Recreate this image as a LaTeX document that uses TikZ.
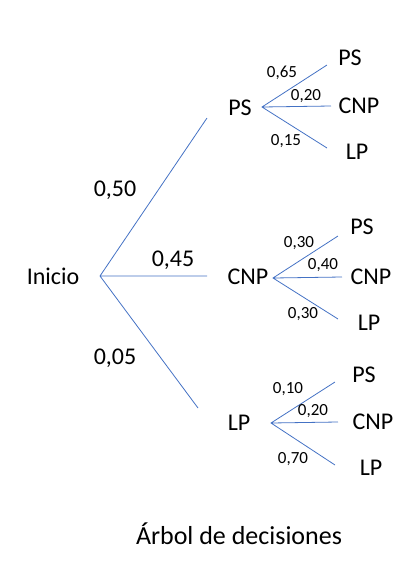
\documentclass[tikz,border=0pt]{standalone}
\usepackage{fontspec}
\setmainfont{Carlito}
\definecolor{azul}{HTML}{4472C4}
\begin{document}
\begin{tikzpicture}[x=1pt,y=-1pt,
    big/.style={font=\fontsize{24}{28}\selectfont},
    small/.style={font=\fontsize{17}{20}\selectfont},
    rama/.style={draw=azul,line width=0.8pt}]
    \useasboundingbox (0,0) rectangle (419,574);
    % raiz
    \node[big] (ini) at (53,276) {Inicio};
    \coordinate (O) at (100,276);
    \coordinate (O1) at (207,118);
    \coordinate (O2) at (207,276);
    \coordinate (O3) at (198,408);
    \draw[rama] (O1) -- (O) -- (O3) (O) -- (O2);
    \node[big] (p1) at (115,190) {0,50};
    \node[big] (p2) at (173,260) {0,45};
    \node[big] (p3) at (115,358) {0,05};
    % primer nivel
    \node[big] (PS) at (240,108) {PS};
    \node[big] (CNP) at (248,277) {CNP};
    \node[big] (LP) at (239,423) {LP};
    % rama PS
    \coordinate (A) at (262,107);
    \coordinate (A1) at (327,65);
    \coordinate (A2) at (331,106);
    \coordinate (A3) at (327,148);
    \draw[rama] (A1) -- (A) -- (A3) (A) -- (A2);
    \node[small] (a1) at (282,73) {0,65};
    \node[small] (a2) at (306,96) {0,20};
    \node[small] (a3) at (286,141) {0,15};
    \node[big] (PS-PS) at (350,58) {PS};
    \node[big] (PS-CNP) at (359,106) {CNP};
    \node[big] (PS-LP) at (357,152) {LP};
    % rama CNP
    \coordinate (B) at (273,278);
    \coordinate (B1) at (338,236);
    \coordinate (B2) at (342,277);
    \coordinate (B3) at (338,319);
    \draw[rama] (B1) -- (B) -- (B3) (B) -- (B2);
    \node[small] (b1) at (299,243) {0,30};
    \node[small] (b2) at (323,265) {0,40};
    \node[small] (b3) at (303,314) {0,30};
    \node[big] (CNP-PS) at (362,227) {PS};
    \node[big] (CNP-CNP) at (371,277) {CNP};
    \node[big] (CNP-LP) at (369,323) {LP};
    % rama LP
    \coordinate (C) at (271,423);
    \coordinate (C1) at (335,382);
    \coordinate (C2) at (338,422);
    \coordinate (C3) at (335,465);
    \draw[rama] (C1) -- (C) -- (C3) (C) -- (C2);
    \node[small] (c1) at (288,389) {0,10};
    \node[small] (c2) at (313,411) {0,20};
    \node[small] (c3) at (293,459) {0,70};
    \node[big] (LP-PS) at (364,375) {PS};
    \node[big] (LP-CNP) at (373,422) {CNP};
    \node[big] (LP-LP) at (371,468) {LP};
    % titulo
    \node[font=\fontsize{26}{30}\selectfont] (titulo) at (239,534) {Árbol de decisiones};
\end{tikzpicture}
\end{document}
